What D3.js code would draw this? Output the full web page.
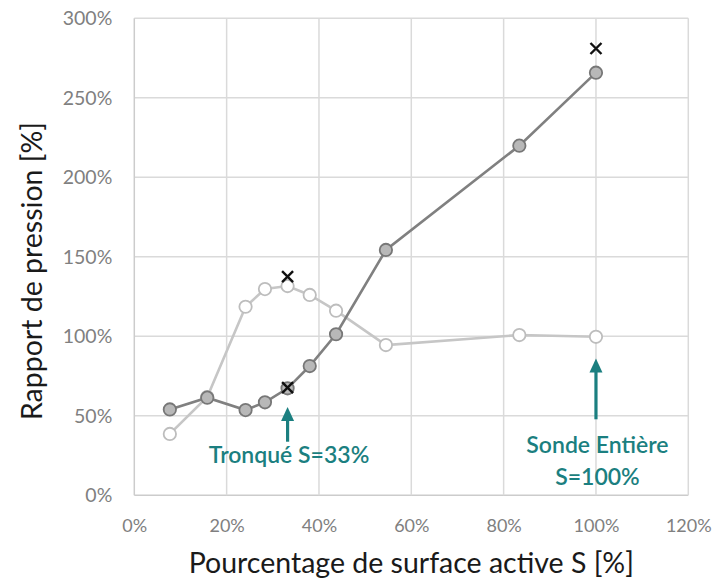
<!DOCTYPE html>
<html>
<head>
<meta charset="utf-8">
<script src="https://cdn.jsdelivr.net/npm/d3@7"></script>
<style>
  html, body { margin: 0; padding: 0; background: #ffffff; }
  svg { display: block; }
  text { font-family: Lato, "Open Sans", sans-serif; }
</style>
</head>
<body>
<svg id="chart" width="719" height="578"></svg>
<script>
// Surface active S [%] for each measured probe configuration
const surfaceS = [7.7, 15.8, 24.1, 28.3, 33.2, 38.0, 43.7, 54.5, 83.4, 100];
// Pressure ratio [%] — dark series
const ratioDark = [54.0, 61.4, 53.6, 58.5, 67.3, 81.3, 101.3, 154.3, 219.9, 265.8];
// Pressure ratio [%] — light series
const ratioLight = [38.6, 61.8, 118.6, 129.7, 131.6, 126.0, 116.1, 94.5, 100.8, 99.7];
// Reference points drawn as crosses
const crossS = [33.2, 33.2, 100];
const crossRatio = [137.5, 67.7, 281];
// Axis ticks
const xTicks = [0, 20, 40, 60, 80, 100, 120];
const yTicks = [0, 50, 100, 150, 200, 250, 300];
// Annotations: label lines, x position, arrow tip and tail values
const noteLines = [["Tronqué S=33%"], ["Sonde Entière", "S=100%"]];
const noteS = [33.2, 100];
const noteTip = [55.5, 86.0];
const noteTail = [33.7, 47.8];

// Label gap below each arrow tail, in pixels
const noteGap = [21.5, 34];

const svg = d3.select("#chart");
const m = { left: 134.3, top: 18.3, right: 719 - 688.3, bottom: 578 - 495.3 };
const W = 719 - m.left - m.right;
const H = 578 - m.top - m.bottom;

const x = d3.scaleLinear().domain([0, 120]).range([0, W]);
const y = d3.scaleLinear().domain([0, 300]).range([H, 0]);

const g = svg.append("g").attr("transform", `translate(${m.left},${m.top})`);

// Grid
g.append("g").selectAll("line").data(yTicks).join("line")
  .attr("x1", 0).attr("x2", W)
  .attr("y1", d => y(d)).attr("y2", d => y(d))
  .attr("stroke", d => d === 0 ? "#cccccc" : "#dadada").attr("stroke-width", 1.5);
g.append("g").selectAll("line").data(xTicks).join("line")
  .attr("y1", 0).attr("y2", H)
  .attr("x1", d => x(d)).attr("x2", d => x(d))
  .attr("stroke", d => d === 0 ? "#cccccc" : "#dadada").attr("stroke-width", 1.5);

// Axes (labels only)
const xAxis = g.append("g").attr("transform", `translate(0,${H})`)
  .call(d3.axisBottom(x).tickValues(xTicks).tickSize(0).tickPadding(24).tickFormat(d => d + "%"));
const yAxis = g.append("g")
  .call(d3.axisLeft(y).tickValues(yTicks).tickSize(0).tickPadding(22).tickFormat(d => d + "%"));
[xAxis, yAxis].forEach(a => {
  a.select(".domain").remove();
  a.selectAll("text").attr("fill", "#808080").attr("font-family", "Lato, sans-serif");
});
xAxis.selectAll("text").attr("font-size", 18);
yAxis.selectAll("text").attr("font-size", 19.5);

// Axis titles
svg.append("text")
  .attr("x", m.left + W / 2).attr("y", 573)
  .attr("text-anchor", "middle").attr("font-size", 28.5).attr("fill", "#1a1a1a")
  .text("Pourcentage de surface active S [%]");
svg.append("text")
  .attr("transform", `translate(42,${271}) rotate(-90)`)
  .attr("text-anchor", "middle").attr("font-size", 28.5).attr("fill", "#1a1a1a")
  .text("Rapport de pression [%]");

const line = d3.line().x(d => x(d[0])).y(d => y(d[1]));
const lightPts = surfaceS.map((s, i) => [s, ratioLight[i]]);
const darkPts = surfaceS.map((s, i) => [s, ratioDark[i]]);

// Light series
g.append("path").datum(lightPts).attr("d", line)
  .attr("fill", "none").attr("stroke", "#c6c6c6").attr("stroke-width", 2.6);
g.append("g").selectAll("circle").data(lightPts).join("circle")
  .attr("cx", d => x(d[0])).attr("cy", d => y(d[1])).attr("r", 6.2)
  .attr("fill", "#ffffff").attr("stroke", "#bdbdbd").attr("stroke-width", 1.8);

// Dark series
g.append("path").datum(darkPts).attr("d", line)
  .attr("fill", "none").attr("stroke", "#808080").attr("stroke-width", 2.6);
g.append("g").selectAll("circle").data(darkPts).join("circle")
  .attr("cx", d => x(d[0])).attr("cy", d => y(d[1])).attr("r", 6.2)
  .attr("fill", "#b8b8b8").attr("stroke", "#777777").attr("stroke-width", 1.8);

// Crosses
const cs = 5.5;
g.append("g").selectAll("path").data(crossS.map((s, i) => [s, crossRatio[i]])).join("path")
  .attr("d", d => {
    const cx = x(d[0]), cy = y(d[1]);
    return `M${cx - cs},${cy - cs}L${cx + cs},${cy + cs}M${cx - cs},${cy + cs}L${cx + cs},${cy - cs}`;
  })
  .attr("stroke", "#111111").attr("stroke-width", 2.4).attr("fill", "none");

// Annotations
const teal = "#1b7f80";
noteS.forEach((s, i) => {
  const ax = x(s), tip = y(noteTip[i]), tail = y(noteTail[i]);
  const headH = 14, headW = 6.5;
  g.append("line").attr("x1", ax).attr("x2", ax).attr("y1", tail).attr("y2", tip + headH - 1)
    .attr("stroke", teal).attr("stroke-width", 3.2);
  g.append("path")
    .attr("d", `M${ax},${tip}L${ax - headW},${tip + headH}L${ax + headW},${tip + headH}Z`)
    .attr("fill", teal);
  const t = g.append("text").attr("text-anchor", "middle").attr("fill", teal)
    .attr("font-size", 23).attr("font-weight", 600);
  noteLines[i].forEach((ln, k) => {
    t.append("tspan").attr("x", ax + 1.5).attr("y", tail - m.top + m.top + noteGap[i] + k * 32).text(ln);
  });
});
</script>
</body>
</html>
